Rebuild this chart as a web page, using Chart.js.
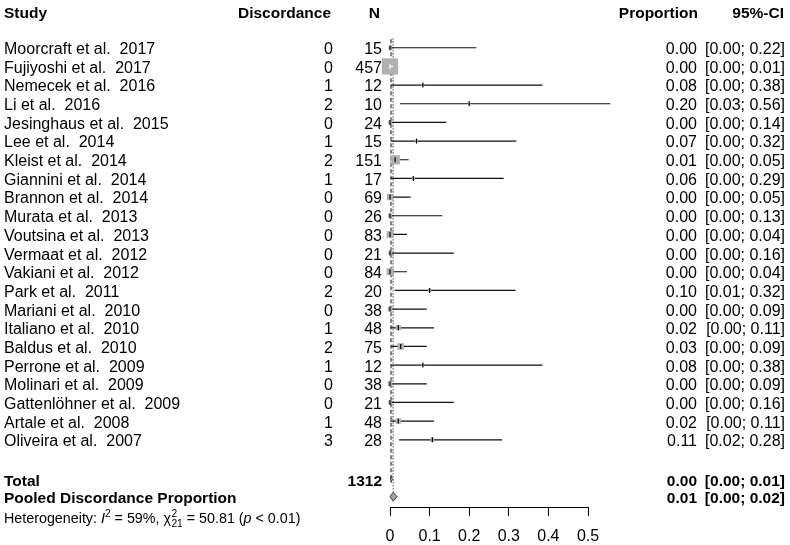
<!DOCTYPE html>
<html>
<head>
<meta charset="utf-8">
<script src="https://cdn.jsdelivr.net/npm/chart.js@4/dist/chart.umd.min.js"></script>
<style>
  html, body { margin: 0; padding: 0; background: #fff; }
  canvas { display: block; }
</style>
</head>
<body>
<canvas id="forest" width="790" height="545"></canvas>
<script>
const studies = [
  "Moorcraft et al.  2017", "Fujiyoshi et al.  2017", "Nemecek et al.  2016", "Li et al.  2016",
  "Jesinghaus et al.  2015", "Lee et al.  2014", "Kleist et al.  2014", "Giannini et al.  2014",
  "Brannon et al.  2014", "Murata et al.  2013", "Voutsina et al.  2013", "Vermaat et al.  2012",
  "Vakiani et al.  2012", "Park et al.  2011", "Mariani et al.  2010", "Italiano et al.  2010",
  "Baldus et al.  2010", "Perrone et al.  2009", "Molinari et al.  2009", "Gattenlöhner et al.  2009",
  "Artale et al.  2008", "Oliveira et al.  2007",
];
const events = [0, 0, 1, 2, 0, 1, 2, 1, 0, 0, 0, 0, 0, 2, 0, 1, 2, 1, 0, 0, 1, 3];
const totals = [15, 457, 12, 10, 24, 15, 151, 17, 69, 26, 83, 21, 84, 20, 38, 48, 75, 12, 38, 21, 48, 28];
const props = [0, 0, 0.083, 0.2, 0, 0.067, 0.013, 0.059, 0, 0, 0, 0, 0, 0.1, 0, 0.021, 0.027, 0.083, 0, 0, 0.021, 0.107];
const ciLower = [0, 0, 0.002, 0.025, 0, 0.002, 0.002, 0.001, 0, 0, 0, 0, 0, 0.012, 0, 0.001, 0.003, 0.002, 0, 0, 0.001, 0.023];
const ciUpper = [0.218, 0.008, 0.385, 0.556, 0.142, 0.319, 0.047, 0.287, 0.052, 0.132, 0.043, 0.161, 0.043, 0.317, 0.093, 0.111, 0.093, 0.385, 0.093, 0.161, 0.111, 0.283];
const propLabels = ["0.00", "0.00", "0.08", "0.20", "0.00", "0.07", "0.01", "0.06", "0.00", "0.00", "0.00",
  "0.00", "0.00", "0.10", "0.00", "0.02", "0.03", "0.08", "0.00", "0.00", "0.02", "0.11"];
const ciLabels = ["[0.00; 0.22]", "[0.00; 0.01]", "[0.00; 0.38]", "[0.03; 0.56]", "[0.00; 0.14]", "[0.00; 0.32]",
  "[0.00; 0.05]", "[0.00; 0.29]", "[0.00; 0.05]", "[0.00; 0.13]", "[0.00; 0.04]", "[0.00; 0.16]",
  "[0.00; 0.04]", "[0.01; 0.32]", "[0.00; 0.09]", "[0.00; 0.11]", "[0.00; 0.09]", "[0.00; 0.38]",
  "[0.00; 0.09]", "[0.00; 0.16]", "[0.00; 0.11]", "[0.02; 0.28]"];

// pooled results: [estimate, lower, upper]
const commonEffect = [0.003, 0.001, 0.006];
const randomEffect = [0.008, 0.0, 0.018];
const totalN = 1312;
const commonLabel = ["0.00", "[0.00; 0.01]"];
const randomLabel = ["0.01", "[0.00; 0.02]"];

const xTicks = [0, 0.1, 0.2, 0.3, 0.4, 0.5];
const xTickLabels = ["0", "0.1", "0.2", "0.3", "0.4", "0.5"];

// row positions (row units, top to bottom)
const ROW_HEADER = -1.91;
const ROW_TOTAL = 23.12;
const ROW_POOLED = 24.05;
const ROW_HET = 25.14;

const FONT = "'Liberation Sans', Arial, Helvetica, sans-serif";
const PX_PER_UNIT = (588 - 390) / 0.5;

// box side grows with sqrt of study size (area ~ weight)
const boxSide = totals.map((n) => 0.76 * Math.sqrt(n));
const inside = props.map((p, i) => {
  const half = boxSide[i] / 2 / PX_PER_UNIT;
  return ciLower[i] >= p - half && ciUpper[i] <= p + half;
});

const ciData = [];
const insideData = [];
studies.forEach((s, i) => {
  const target = inside[i] ? insideData : ciData;
  target.push({ x: ciLower[i], y: i }, { x: ciUpper[i], y: i }, { x: ciUpper[i], y: null });
});

const diamond = (eff, row, h) => [
  { x: eff[1], y: row }, { x: eff[0], y: row - h }, { x: eff[2], y: row },
  { x: eff[0], y: row + h }, { x: eff[1], y: row },
];

const textPlugin = {
  id: "forestText",
  afterDraw(chart) {
    const ctx = chart.ctx;
    const yS = chart.scales.y;
    const rowY = (r) => yS.getPixelForValue(r) + 2;
    ctx.save();
    ctx.fillStyle = "#000";
    ctx.textBaseline = "middle";

    ctx.font = `bold 15.5px ${FONT}`;
    const hy = rowY(ROW_HEADER);
    ctx.textAlign = "left";
    ctx.fillText("Study", 4, hy);
    ctx.textAlign = "right";
    ctx.fillText("Discordance", 331, hy);
    ctx.fillText("N", 380, hy);
    ctx.fillText("Proportion", 698, hy);
    ctx.fillText("95%-CI", 784, hy);

    ctx.font = `16px ${FONT}`;
    studies.forEach((s, i) => {
      const y = rowY(i);
      ctx.textAlign = "left";
      ctx.fillText(s, 4, y);
      ctx.textAlign = "right";
      ctx.fillText(String(events[i]), 333, y);
      ctx.fillText(String(totals[i]), 382, y);
      ctx.fillText(propLabels[i], 697, y);
      ctx.fillText(ciLabels[i], 785, y);
    });

    ctx.font = `bold 15.5px ${FONT}`;
    let y = rowY(ROW_TOTAL);
    ctx.textAlign = "left";
    ctx.fillText("Total", 4, y);
    ctx.textAlign = "right";
    ctx.fillText(String(totalN), 382, y);
    ctx.fillText(commonLabel[0], 697, y);
    ctx.fillText(commonLabel[1], 785, y);
    y = rowY(ROW_POOLED);
    ctx.textAlign = "left";
    ctx.fillText("Pooled Discordance Proportion", 4, y);
    ctx.textAlign = "right";
    ctx.fillText(randomLabel[0], 697, y);
    ctx.fillText(randomLabel[1], 785, y);

    // heterogeneity line with italics, super- and subscripts
    y = rowY(ROW_HET);
    ctx.textAlign = "left";
    let x = 4;
    const put = (t, font, dy = 0) => {
      ctx.font = font;
      ctx.fillText(t, x, y + dy);
      x += ctx.measureText(t).width;
    };
    const base = `14.3px ${FONT}`;
    const small = `10.2px ${FONT}`;
    put("Heterogeneity: ", base);
    put("I", `italic 14.3px ${FONT}`);
    put("2", small, -5);
    put(" = 59%, ", base);
    put("χ", base);
    ctx.font = small;
    ctx.fillText("2", x + 0.5, y - 5);
    ctx.fillText("21", x + 0.5, y + 5);
    x += ctx.measureText("21").width + 0.5;
    put(" = 50.81 (", base);
    put("p", `italic 14.3px ${FONT}`);
    put(" < 0.01)", base);
    ctx.restore();
  },
};

new Chart(document.getElementById("forest"), {
  type: "scatter",
  data: {
    datasets: [
      {
        label: "estimate",
        data: props.map((p, i) => ({ x: p, y: i })),
        pointStyle: "line",
        rotation: 90,
        pointRadius: 2.5,
        pointBorderWidth: 1.2,
        pointBorderColor: inside.map((f) => (f ? "#fff" : "#000")),
        order: 0,
      },
      {
        label: "ci inside box",
        data: insideData,
        showLine: true,
        borderColor: "#fff",
        borderWidth: 1.2,
        pointRadius: 0,
        order: 1,
      },
      {
        label: "boxes",
        data: props.map((p, i) => ({ x: p, y: i })),
        pointStyle: "rect",
        pointRadius: boxSide.map((s) => s / Math.SQRT2),
        backgroundColor: "#b0b0b0",
        borderWidth: 0,
        order: 2,
      },
      {
        label: "ci",
        data: ciData,
        showLine: true,
        borderColor: "#111",
        borderWidth: 1.2,
        pointRadius: 0,
        order: 3,
      },
      {
        label: "common diamond",
        data: diamond(commonEffect, ROW_TOTAL, 0.17),
        showLine: true,
        fill: "shape",
        backgroundColor: "#a0a0a0",
        borderColor: "#444",
        borderWidth: 1,
        pointRadius: 0,
        order: 1,
      },
      {
        label: "random diamond",
        data: diamond(randomEffect, ROW_POOLED, 0.24),
        showLine: true,
        fill: "shape",
        backgroundColor: "#a0a0a0",
        borderColor: "#444",
        borderWidth: 1,
        pointRadius: 0,
        order: 1,
      },
      {
        label: "common line",
        data: [{ x: commonEffect[0], y: -0.45 }, { x: commonEffect[0], y: ROW_TOTAL }],
        showLine: true,
        borderColor: "#808080",
        borderWidth: 2.2,
        borderDash: [4, 2.5],
        pointRadius: 0,
        order: 5,
      },
      {
        label: "random line",
        data: [{ x: randomEffect[0], y: -0.5 }, { x: randomEffect[0], y: ROW_POOLED - 0.24 }],
        showLine: true,
        borderColor: "#000",
        borderWidth: 1,
        borderDash: [1, 2],
        pointRadius: 0,
        order: 4,
      },
    ].map((d) => ({ clip: false, ...d })),
  },
  options: {
    responsive: false,
    animation: false,
    devicePixelRatio: 1,
    layout: { autoPadding: false, padding: { left: 390, right: 202, top: 2, bottom: 0 } },
    plugins: { legend: { display: false }, tooltip: { enabled: false } },
    scales: {
      x: {
        type: "linear",
        min: 0,
        max: 0.5,
        afterBuildTicks: (scale) => {
          scale.ticks = xTicks.map((v) => ({ value: v }));
        },
        afterFit: (scale) => {
          scale.height = 38;
        },
        grid: { drawOnChartArea: false, drawTicks: true, tickLength: 9, color: "#000", tickWidth: 1 },
        border: { display: true, color: "#000", width: 1 },
        ticks: {
          color: "#000",
          font: { family: FONT, size: 16 },
          padding: 11,
          maxRotation: 0,
          callback: (v) => xTickLabels[xTicks.indexOf(v)] ?? "",
        },
      },
      y: {
        type: "linear",
        reverse: true,
        min: -2.45,
        max: 24.6,
        display: false,
      },
    },
  },
  plugins: [textPlugin],
});
</script>
</body>
</html>
